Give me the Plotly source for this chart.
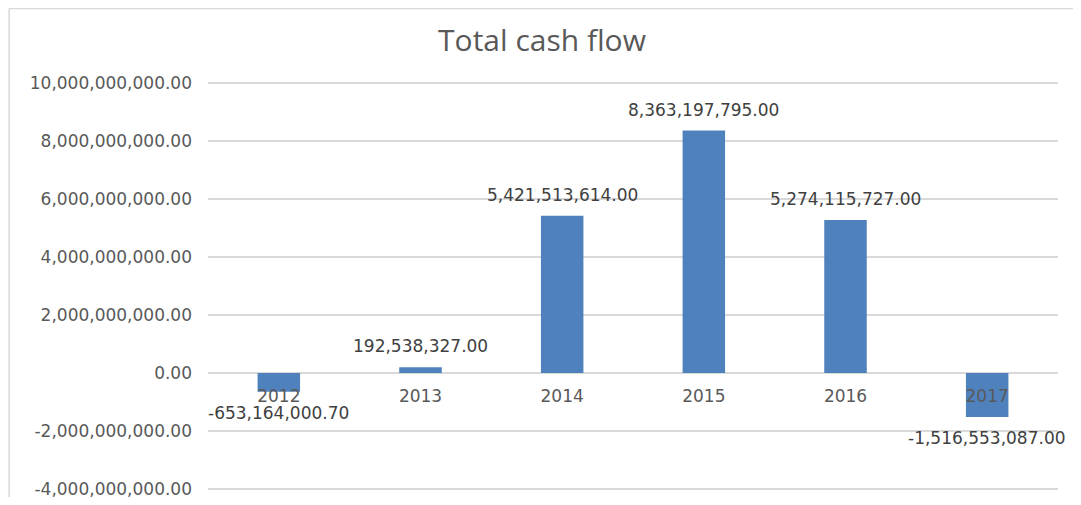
import plotly.graph_objects as go

years = ["2012", "2013", "2014", "2015", "2016", "2017"]
cash_flow = [-653164000.70, 192538327.00, 5421513614.00, 8363197795.00, 5274115727.00, -1516553087.00]
y_ticks = [-4e9, -2e9, 0, 2e9, 4e9, 6e9, 8e9, 10e9]
y_tick_labels = [f"{v:,.2f}" for v in y_ticks]

BAR = "#4F81BD"
GRID = "#D9D9D9"
TXT = "#595959"
FONT = "DejaVu Sans"
W, H = 1065, 489  # page body has an 8px margin

fig = go.Figure()
fig.add_trace(go.Bar(x=list(range(len(years))), y=cash_flow,
                     marker=dict(color=BAR, line=dict(width=0)),
                     hovertext=years, hoverinfo="text+y"))

for i, v in enumerate(cash_flow):
    fig.add_annotation(x=i, y=v, text=f"{v:,.2f}", showarrow=False,
                       yshift=21 if v >= 0 else -21,
                       font=dict(family=FONT, size=17, color="#404040"))

# chart-area border (top and left edges)
fig.add_shape(type="line", xref="paper", yref="paper", x0=-0.234, x1=1.05, y0=1.18, y1=1.18,
              line=dict(color=GRID, width=1.5))
fig.add_shape(type="line", xref="paper", yref="paper", x0=-0.234, x1=-0.234, y0=-0.1, y1=1.18,
              line=dict(color=GRID, width=1.5))

fig.update_layout(
    width=W, height=H,
    margin=dict(l=200, r=15, t=74, b=7, autoexpand=False),
    paper_bgcolor="white", plot_bgcolor="white",
    bargap=0.7,
    showlegend=False,
    title=dict(text="Total cash flow", x=(542 - 8) / W, xanchor="center", xref="container",
               y=1 - (40 - 8) / H, yanchor="middle",
               font=dict(family="Open Sans", size=30, color=TXT)),
    xaxis=dict(range=[-0.5, 5.5], anchor="free", position=(4.04) / 14.08, showline=False,
               tickvals=list(range(len(years))), ticktext=years, automargin=False,
               showgrid=False, zeroline=False, ticks="", ticklabelstandoff=11,
               tickfont=dict(family=FONT, size=17, color=TXT)),
    yaxis=dict(range=[-4.04e9, 10.04e9], tickvals=y_ticks, ticktext=y_tick_labels,
               showgrid=True, gridcolor=GRID, gridwidth=1.5, zeroline=True,
               zerolinecolor=GRID, zerolinewidth=1.5, showline=False, ticks="",
               ticklabelstandoff=15, ticklabeloverflow="allow", automargin=False,
               tickfont=dict(family=FONT, size=17, color=TXT)),
)

fig.write_html("out.html")
